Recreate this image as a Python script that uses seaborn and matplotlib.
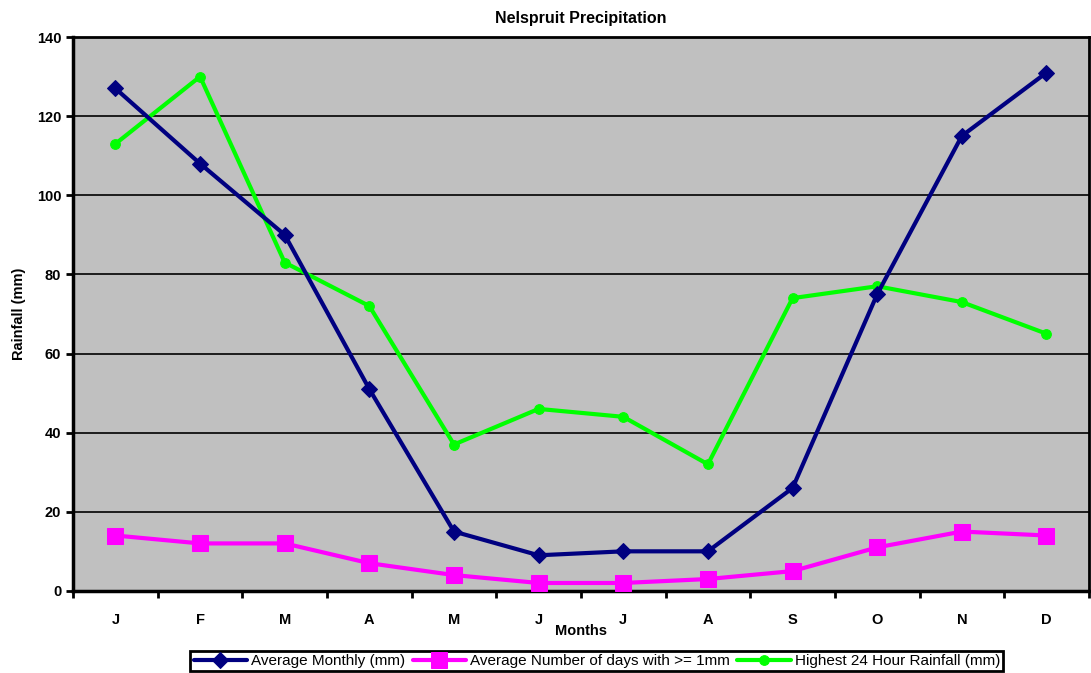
import numpy as np
import pandas as pd
import matplotlib
matplotlib.use('Agg')
import matplotlib.pyplot as plt
import seaborn as sns

# Data
months = ['J', 'F', 'M', 'A', 'M', 'J', 'J', 'A', 'S', 'O', 'N', 'D']
avg_monthly = [127, 108, 90, 51, 15, 9, 10, 10, 26, 75, 115, 131]
avg_days = [14, 12, 12, 7, 4, 2, 2, 3, 5, 11, 15, 14]
highest_24h = [113, 130, 83, 72, 37, 46, 44, 32, 74, 77, 73, 65]

series_names = ['Average Monthly (mm)',
                'Average Number of days with >= 1mm',
                'Highest 24 Hour Rainfall (mm)']

df = pd.DataFrame({
    'pos': list(range(len(months))) * 3,
    'value': avg_monthly + avg_days + highest_24h,
    'series': np.repeat(series_names, len(months)),
})

sns.set_style('white', {'xtick.bottom': True, 'ytick.left': True,
                        'text.color': 'black', 'axes.labelcolor': 'black',
                        'xtick.color': 'black', 'ytick.color': 'black',
                        'axes.edgecolor': 'black'})
plt.rcParams['font.family'] = ['Liberation Sans', 'DejaVu Sans']

fig = plt.figure(figsize=(10.91, 6.73), dpi=100)
ax = fig.add_axes([0.067, 0.122, 0.931, 0.823])
ax.set_facecolor('#c0c0c0')

palette = {series_names[0]: '#000080',
           series_names[1]: '#ff00ff',
           series_names[2]: '#00ff00'}
markers = {series_names[0]: 'D',
           series_names[1]: 's',
           series_names[2]: 'o'}
sizes = {series_names[0]: 8, series_names[1]: 11, series_names[2]: 7}

# draw green first, then magenta, then navy (navy on top)
for name in [series_names[2], series_names[1], series_names[0]]:
    sub = df[df['series'] == name]
    sns.lineplot(data=sub, x='pos', y='value', ax=ax, color=palette[name],
                 marker=markers[name], markersize=sizes[name],
                 markeredgecolor=palette[name], linewidth=3, label=name,
                 zorder=3)

ax.set_xlim(-0.5, 11.5)
ax.set_ylim(0, 140)
ax.set_yticks(range(0, 141, 20))
ax.yaxis.grid(True, color='black', linewidth=1.2)
ax.set_axisbelow(True)

ax.set_xticks(range(len(months)))
ax.set_xticklabels(months, fontsize=10.5, fontweight='bold')
ax.set_xticks(np.arange(-0.5, 12, 1), minor=True)
ax.tick_params(axis='x', which='major', length=0, pad=16)
ax.tick_params(axis='x', which='minor', length=5, width=2, direction='out',
               bottom=True)
ax.tick_params(axis='y', length=5, width=2, direction='out', labelsize=10.5,
               left=True)
for lab in ax.get_yticklabels():
    lab.set_fontweight('bold')

for side in ['left', 'bottom']:
    ax.spines[side].set_linewidth(2.5)
ax.spines['top'].set_linewidth(2)
ax.spines['right'].set_linewidth(2)

ax.set_xlabel('Months', fontsize=10.5, fontweight='bold', labelpad=-2)
ax.set_ylabel('Rainfall (mm)', fontsize=10.5, fontweight='bold', labelpad=8)
ax.set_title('Nelspruit Precipitation', fontsize=11.5, fontweight='bold',
             pad=10)

handles, labels = ax.get_legend_handles_labels()
order = [labels.index(n) for n in series_names]
ax.legend([handles[i] for i in order], [labels[i] for i in order],
          loc='lower center', bbox_to_anchor=(0.547, 0.0),
          bbox_transform=fig.transFigure, ncol=3, frameon=True,
          fancybox=False, edgecolor='black', framealpha=1, fontsize=11,
          handlelength=3.5, handletextpad=0.25, columnspacing=0.5,
          borderpad=0.2, borderaxespad=0.1)
ax.get_legend().get_frame().set_linewidth(2)

fig.savefig('out.png', dpi=100)
